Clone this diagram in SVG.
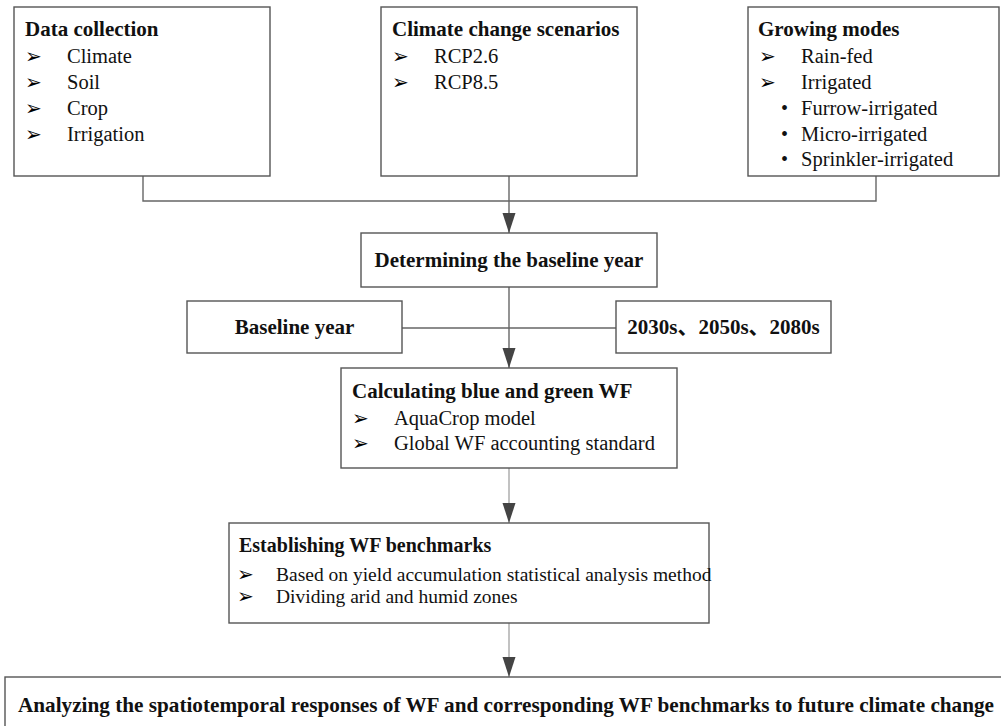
<svg xmlns="http://www.w3.org/2000/svg" width="1001" height="726" viewBox="0 0 1001 726">
<style>
.box{fill:#fff;stroke:#555;stroke-width:1.4}
.t{font-family:"Liberation Serif","Times New Roman",serif;fill:#111}
.b{font-weight:bold;font-size:21px}
.r{font-size:20.5px}
.s{font-size:19.5px}
.bul{font-family:"DejaVu Sans",sans-serif;font-size:20px;fill:#000}
.dot{font-family:"Liberation Serif",serif;font-size:20px;fill:#111}
.cn{fill:none;stroke:#666;stroke-width:1.4}
.cl{fill:none;stroke:#999;stroke-width:1.2}
</style>
<defs>
<marker id="ah" markerUnits="userSpaceOnUse" markerWidth="21" markerHeight="14" refX="20" refY="7" orient="auto">
<path d="M0,0.5 L20,7 L0,13.5 z" fill="#444"/>
</marker>
</defs>
<g id="connectors">
<path class="cn" d="M143,176 V201 H876 V176"/>
<path class="cn" d="M509,176 V233" marker-end="url(#ah)"/>
<path class="cn" d="M509,287 V368" marker-end="url(#ah)"/>
<path class="cn" d="M402,328 H616"/>
<path class="cl" d="M509,468 V523" marker-end="url(#ah)"/>
<path class="cl" d="M509,623 V677" marker-end="url(#ah)"/>
</g>
<g id="data-collection">
<rect class="box" x="14" y="7" width="256" height="169"/>
<text class="t b" x="25" y="36">Data collection</text>
<text class="bul" x="25" y="63">➢</text><text class="t r" x="67" y="63">Climate</text>
<text class="bul" x="25" y="89">➢</text><text class="t r" x="67" y="89">Soil</text>
<text class="bul" x="25" y="115">➢</text><text class="t r" x="67" y="115">Crop</text>
<text class="bul" x="25" y="141">➢</text><text class="t r" x="67" y="141">Irrigation</text>
</g>
<g id="climate-scenarios">
<rect class="box" x="381" y="7" width="256" height="169"/>
<text class="t b" x="392" y="36">Climate change scenarios</text>
<text class="bul" x="392" y="63">➢</text><text class="t r" x="434" y="63">RCP2.6</text>
<text class="bul" x="392" y="89">➢</text><text class="t r" x="434" y="89">RCP8.5</text>
</g>
<g id="growing-modes">
<rect class="box" x="748" y="7" width="251" height="169"/>
<text class="t b" x="758" y="36">Growing modes</text>
<text class="bul" x="759" y="63">➢</text><text class="t r" x="801" y="63">Rain-fed</text>
<text class="bul" x="759" y="89">➢</text><text class="t r" x="801" y="89">Irrigated</text>
<text class="dot" x="781" y="115">•</text><text class="t r" x="801" y="115">Furrow-irrigated</text>
<text class="dot" x="781" y="141">•</text><text class="t r" x="801" y="141">Micro-irrigated</text>
<text class="dot" x="781" y="166">•</text><text class="t r" x="801" y="166">Sprinkler-irrigated</text>
</g>
<g id="determining">
<rect class="box" x="361" y="233" width="296" height="54"/>
<text class="t b" x="509" y="267" text-anchor="middle">Determining the baseline year</text>
</g>
<g id="baseline-year">
<rect class="box" x="187" y="301" width="215" height="52"/>
<text class="t b" x="294.5" y="334" text-anchor="middle">Baseline year</text>
</g>
<g id="future-periods">
<rect class="box" x="616" y="301" width="215" height="52"/>
<text class="t b" x="723.5" y="334" text-anchor="middle" style="font-family:'Liberation Serif','Noto Sans CJK SC',serif">2030s、2050s、2080s</text>
</g>
<g id="calculating">
<rect class="box" x="341" y="368" width="336" height="100"/>
<text class="t b" x="352" y="398">Calculating blue and green WF</text>
<text class="bul" x="352" y="425">➢</text><text class="t r" x="394" y="425">AquaCrop model</text>
<text class="bul" x="352" y="450">➢</text><text class="t r" x="394" y="450">Global WF accounting standard</text>
</g>
<g id="establishing">
<rect class="box" x="229" y="523" width="480" height="100"/>
<text class="t b" x="239" y="552" style="font-size:20px">Establishing WF benchmarks</text>
<text class="bul" x="237" y="581">➢</text><text class="t s" x="276" y="581">Based on yield accumulation statistical analysis method</text>
<text class="bul" x="237" y="603">➢</text><text class="t s" x="276" y="603">Dividing arid and humid zones</text>
</g>
<g id="analyzing">
<rect class="box" x="5" y="677" width="1002" height="51"/>
<text class="t b" x="18" y="712" textLength="976" lengthAdjust="spacingAndGlyphs" style="font-size:22px">Analyzing the spatiotemporal responses of WF and corresponding WF benchmarks to future climate change</text>
</g>
</svg>
